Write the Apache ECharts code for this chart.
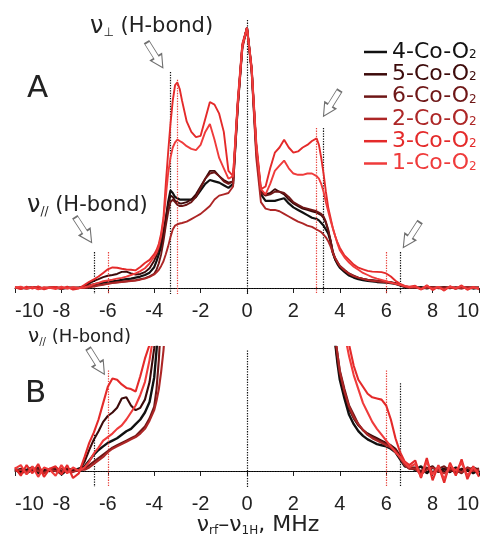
<!DOCTYPE html>
<html><head><meta charset="utf-8">
<script src="https://cdn.jsdelivr.net/npm/echarts@6/dist/echarts.min.js"></script>
<style>html,body{margin:0;padding:0;background:#fff}#c{width:486px;height:535px}</style>
</head><body><div id="c"></div>
<script>
// shared frequency axis (MHz)
const xs = [
  -10, -9.75, -9.5, -9.25, -9, -8.75, -8.5, -8.25, -8, -7.75, -7.5, -7.25,
  -7.0, -6.8, -6.6, -6.4, -6.2, -6.0, -5.8, -5.6, -5.4, -5.2, -5.0, -4.8, -4.6, -4.4, -4.2, -4.0,
  -3.9, -3.8, -3.7, -3.6, -3.5, -3.4, -3.3, -3.2, -3.1, -3.0, -2.9, -2.8,
  -2.6, -2.4, -2.2, -2.0, -1.8, -1.6, -1.4, -1.2, -1.0, -0.8, -0.6, -0.4, -0.2, 0, 0.2, 0.4, 0.6, 0.8, 1.0, 1.2, 1.4, 1.6, 1.8, 2.0, 2.2, 2.4, 2.6, 2.8, 3.0,
  3.1, 3.2, 3.3, 3.4, 3.5, 3.6, 3.7, 3.8, 3.9,
  4.0, 4.2, 4.4, 4.6, 4.8, 5.0, 5.2, 5.4, 5.6, 5.8, 6.0, 6.2, 6.4, 6.6, 6.8, 7.0,
  7.25, 7.5, 7.75, 8, 8.25, 8.5, 8.75, 9, 9.25, 9.5, 9.75, 10
];
const y4 = [
  0.2, -0.1, 0.1, 0.3, -0.2, 0.1, 0.0, 0.2, -0.3, 0.1, 0.0, 0.2,
  0.4, 0.9, 1.4, 1.8, 2.1, 2.4, 2.6, 2.8, 3.1, 3.4, 3.6, 4.0, 4.4, 5.0, 5.9, 8.0,
  10.3, 13, 16, 20, 26, 33, 37.5, 36.5, 35, 34.5, 34, 34,
  34, 34, 35, 37.5, 40, 41.5, 41, 40.5, 39.5, 38.5, 40, 70, 93, 100, 84, 53, 36, 33.5, 33.5, 33.5, 34, 34.5, 32.5, 31, 30, 29, 28, 27, 26.5,
  26, 25, 24, 22.5, 21, 18, 13.5, 11, 9.2,
  7.8, 6.2, 4.8, 4.0, 3.4, 3.0, 2.7, 2.5, 2.3, 2.2, 2.1, 1.9, 1.6, 1.0, 0.4, 0.3,
  0.1, 0.4, -0.2, 0.3, 0.0, 0.2, -0.1, 0.3, 0.0, 0.2, -0.2, 0.1
];
const y5 = [
  0.0, 0.2, -0.2, 0.1, 0.3, -0.1, 0.2, 0.0, -0.2, 0.2, 0.1, 0.0,
  0.8, 1.8, 2.7, 3.4, 4.2, 4.7, 5.0, 5.4, 6.2, 6.3, 5.6, 5.2, 5.4, 6.1, 7.6, 10.5,
  12.5, 15, 18, 22, 27, 32, 35.5, 35, 33.5, 33, 32.5, 32.5,
  33, 34, 36, 39, 42, 45, 45, 43, 41.5, 40.5, 41, 70, 93, 100, 84, 54, 37, 36, 36.5, 38, 37, 36, 34, 32.5, 31.5, 30.5, 30, 29.5, 29,
  28.5, 28, 27, 25, 22, 18, 13.5, 11, 9.5,
  8.2, 6.6, 5.3, 4.5, 3.9, 3.5, 3.2, 3.0, 2.8, 2.6, 2.4, 2.2, 1.9, 1.3, 0.6, 0.3,
  0.3, -0.2, 0.2, 0.4, -0.1, 0.1, 0.3, -0.2, 0.2, 0.0, 0.3, 0.1
];
const y6 = [
  0.1, -0.2, 0.0, 0.2, 0.1, -0.1, 0.1, 0.3, 0.0, -0.1, 0.2, 0.0,
  0.2, 0.5, 0.8, 1.1, 1.4, 1.7, 2.0, 2.2, 2.4, 2.6, 2.8, 3.0, 3.4, 3.8, 4.5, 5.5,
  7.0, 9.5, 13, 18, 24, 29, 33, 34, 33, 32, 31.5, 31.5,
  32, 33, 35, 38.5, 42, 44, 44.5, 43, 41, 40, 41, 70, 93, 100, 84, 54, 36.5, 35.5, 36, 37, 37, 36.5, 35, 33, 32, 31, 30.5, 30, 29.5,
  29, 28.5, 27.5, 25.5, 22.5, 18.5, 14, 11.5, 10,
  8.6, 7.0, 5.6, 4.8, 4.0, 3.5, 3.1, 2.9, 2.7, 2.5, 2.3, 2.1, 1.8, 1.2, 0.5, 0.2,
  0.2, 0.0, 0.3, -0.1, 0.2, 0.4, 0.0, 0.1, -0.2, 0.3, 0.1, 0.2
];
const y2 = [
  0.0, 0.1, -0.1, 0.2, 0.0, -0.2, 0.1, 0.0, 0.2, 0.0, -0.1, 0.1,
  0.1, 0.3, 0.6, 0.9, 1.2, 1.6, 1.9, 2.1, 2.3, 2.5, 2.7, 2.9, 3.2, 3.6, 4.3, 5.2,
  6.0, 7.0, 8.5, 10.3, 13, 16, 19.5, 22.5, 24, 24.5, 24.8, 25,
  25.5, 26.5, 27.5, 28.5, 30, 31.5, 34, 35.5, 36, 36.5, 39, 69, 92, 100, 83, 50, 33, 30.5, 30, 30, 29.5, 28.5, 27.5, 26.5, 25.5, 24.8, 24, 23.5, 22.5,
  22, 21.5, 20.5, 19.5, 18, 16, 13.5, 11.5, 10,
  8.5, 6.8, 5.5, 4.6, 4.0, 3.5, 3.1, 2.8, 2.6, 2.4, 2.2, 2.0, 1.7, 1.1, 0.5, 0.2,
  0.2, -0.3, 0.1, 0.3, 0.0, -0.2, 0.2, 0.1, -0.1, 0.3, 0.0, 0.1
];
const y3 = [
  0.3, -0.4, 0.5, -0.2, 0.6, -0.5, 0.2, 0.4, -0.3, 0.5, -0.6, -0.2,
  1.2, 2.4, 3.3, 4.4, 5.8, 7.2, 7.9, 7.8, 7.4, 7.1, 7.0, 6.8, 8.1, 9.6, 10.8, 13,
  14.6, 17, 21, 27, 40, 52, 63, 72, 78, 79, 76.5, 72,
  64, 60, 58, 58.5, 65, 71.5, 70.5, 67, 60, 45, 43, 72, 94, 100, 85, 56, 38, 39, 46, 52, 54, 57, 54, 52, 52.5, 54, 55, 56.5, 57.5,
  55, 50, 44, 37, 31, 27, 23, 20, 17.5,
  15.5, 12.5, 10.8, 9.0, 7.8, 7.2, 6.6, 6.3, 6.2, 6.1, 5.6, 4.4, 2.8, 1.6, 0.8, 0.5,
  0.9, -0.6, 1.1, -0.8, 0.5, -1.0, 0.7, -0.4, 1.0, -0.7, 0.4, -0.5
];
const y1 = [
  0.2, 0.5, -0.3, 0.4, -0.5, 0.3, 0.1, -0.4, 0.5, -0.2, 0.3, 0.0,
  0.3, 0.8, 1.5, 2.0, 2.6, 2.9, 3.2, 3.6, 3.9, 4.4, 5.0, 5.6, 6.5, 7.6, 9.5, 12,
  13.5, 16, 20, 26, 35, 44, 50, 54, 56, 57, 56.5, 56,
  54.5, 53.5, 53, 55, 60, 63, 57, 50, 46, 42, 43, 71, 93, 100, 84, 55, 38, 36, 40, 45, 47, 49, 46, 44, 43.5, 43.5, 44, 44, 43,
  42, 40, 37, 33, 29.5, 26, 23, 20, 17,
  14.5, 11.8, 9.8, 8.2, 7.0, 5.8, 5.0, 4.2, 3.6, 3.1, 2.6, 2.1, 1.6, 1.2, 0.7, 0.3,
  0.6, -0.5, 0.8, -0.3, 0.4, -0.7, 0.5, 0.0, 0.7, -0.4, 0.3, -0.2
];
const names = ['4-Co-O2', '5-Co-O2', '6-Co-O2', '2-Co-O2', '3-Co-O2', '1-Co-O2'];
const values = [y4, y5, y6, y2, y3, y1];
const xTicks = [-10, -8, -6, -4, -2, 0, 2, 4, 6, 8, 10];

// reference lines (x, top value) in data units
const vBlackA = [[0, 103], [-3.3, 83], [3.3, 61.5], [-6.6, 13.8], [6.6, 13.8]];
const vRedA = [[-3.0, 80], [3.0, 61.5], [-6.0, 13.8], [6.0, 13.8]];
const vBlackB = [[0, 10.3], [-6.6, 3.1], [6.6, 7.5]];
const vRedB = [[-6.0, 8.6], [6.0, 8.6]];
// arrows: x, y (centre), rotation
const arrowsA = [[-3.97, 89.5, 32], [3.64, 70.9, -32], [-7.05, 22.3, 33], [7.09, 20.4, -33]];
const arrowsB = [[-6.49, 9.36, 32]];

const colors = ['#111111', '#3c0a0a', '#6e1616', '#ad2626', '#e42a2a', '#ef3b3b'];
const widths = [2.2, 1.9, 1.9, 1.9, 1.9, 1.9];
const FONT = 'DejaVu Sans';
const TICKFONT = 'Liberation Sans';
const yMinA = -2.3, yMaxA = 103, yMinB = -1.37, yMaxB = 10.6;

const arrowPath = 'path://M4,0 L10,0 L10,18 L14,18 L7,31 L0,18 L4,18 Z';

function vlines(list, ymin, color) {
  return list.map(v => [
    {coord: [v[0], v[1]], lineStyle: {color: color, type: [1.3, 1.3], width: 1.2}},
    {coord: [v[0], ymin]}
  ]);
}
function marks(vb, vr, ymin, arrows) {
  return {
    markLine: {
      silent: true, symbol: 'none', label: {show: false},
      lineStyle: {color: '#000', type: [1.3, 1.3], width: 1.2},
      data: [[{coord: [-10, 0]}, {coord: [10, 0]}]]
        .concat(vlines(vb, ymin, '#111'))
        .concat(vlines(vr, ymin, '#e8403a'))
    },
    markPoint: {
      silent: true, symbol: arrowPath, symbolSize: [13, 30],
      label: {show: false},
      itemStyle: {color: '#fff', borderColor: '#707070', borderWidth: 1.2},
      data: arrows.map(a => ({coord: [a[0], a[1]], symbolRotate: a[2]}))
    }
  };
}

const series = [];
[0, 1].forEach(g => {
  names.forEach((n, i) => {
    const s = {
      name: n, type: 'line', xAxisIndex: g, yAxisIndex: g,
      data: xs.map((x, k) => [x, values[i][k]]),
      showSymbol: false, symbol: 'none', clip: true,
      lineStyle: {color: colors[i], width: g === 0 ? widths[i] : widths[i] + 0.2},
      itemStyle: {color: colors[i]}, z: 3 + i
    };
    if (i === 0) {
      Object.assign(s, g === 0 ? marks(vBlackA, vRedA, yMinA, arrowsA) : marks(vBlackB, vRedB, yMinB, arrowsB));
    }
    series.push(s);
  });
});

function xAxis(g) {
  return {
    gridIndex: g, type: 'value', min: -10, max: 10, interval: 2,
    axisLine: {lineStyle: {color: '#222', width: 1}},
    axisTick: {length: 5, lineStyle: {color: '#222'}},
    axisLabel: {fontSize: 20, fontFamily: TICKFONT, color: '#222', margin: 7,
      alignMinLabel: 'left', alignMaxLabel: 'right'},
    splitLine: {show: false}
  };
}

const sub = {fontSize: 12, fontFamily: FONT, lineHeight: 6, verticalAlign: 'bottom'};
function txt(x, y, text, rich, align) {
  return {type: 'text', x: x, y: y, silent: true,
    style: {text: text, align: align || 'left', verticalAlign: 'middle', fill: '#222',
      fontFamily: FONT, rich: rich}};
}

const chart = echarts.init(document.getElementById('c'));
chart.setOption({
  animation: false,
  grid: [
    {left: 15, right: 7, top: 20, bottom: 241},
    {left: 15, right: 7, top: 347, bottom: 48}
  ],
  xAxis: [xAxis(0), xAxis(1)],
  yAxis: [
    {gridIndex: 0, type: 'value', min: yMinA, max: yMaxA, show: false},
    {gridIndex: 1, type: 'value', min: yMinB, max: yMaxB, show: false}
  ],
  legend: {
    orient: 'vertical', left: 359, top: 36, itemGap: 0.3,
    itemWidth: 23, itemHeight: 2.5, icon: 'rect',
    data: names.map((n, i) => ({
      name: n, itemStyle: {color: colors[i]},
      textStyle: {color: colors[i], rich: {
        n: {fontSize: 22, fontFamily: FONT, color: colors[i], lineHeight: 18},
        s: {fontSize: 12, fontFamily: FONT, color: colors[i], lineHeight: 6, verticalAlign: 'bottom'}
      }}
    })),
    formatter: n => '{n|' + n.slice(0, -1) + '}{s|' + n.slice(-1) + '}'
  },
  graphic: [
    txt(27, 89, '{a|A}', {a: {fontSize: 31, fontFamily: FONT, lineHeight: 30}}),
    txt(25, 394, '{a|B}', {a: {fontSize: 31, fontFamily: FONT, lineHeight: 30}}),
    txt(90, 27, '{v|ν}{s|⊥}{t| (H-bond)}', {
      v: {fontSize: 24, fontFamily: FONT, lineHeight: 24},
      s: sub,
      t: {fontSize: 21, fontFamily: FONT, lineHeight: 24}}),
    txt(27, 206, '{v|ν}{s|//}{t| (H-bond)}', {
      v: {fontSize: 24, fontFamily: FONT, lineHeight: 24},
      s: sub,
      t: {fontSize: 21, fontFamily: FONT, lineHeight: 24}}),
    txt(28, 337, '{v|ν}{s|//}{t| (H-bond)}', {
      v: {fontSize: 20, fontFamily: FONT, lineHeight: 20},
      s: {fontSize: 10, fontFamily: FONT, lineHeight: 5, verticalAlign: 'bottom'},
      t: {fontSize: 18, fontFamily: FONT, lineHeight: 20}}),
    txt(258, 525, '{m|ν}{s|rf}{m|–ν}{s|1H}{m|, MHz}', {
      m: {fontSize: 22, fontFamily: FONT, lineHeight: 24},
      s: sub}, 'center')
  ],
  series: series
});
</script></body></html>
